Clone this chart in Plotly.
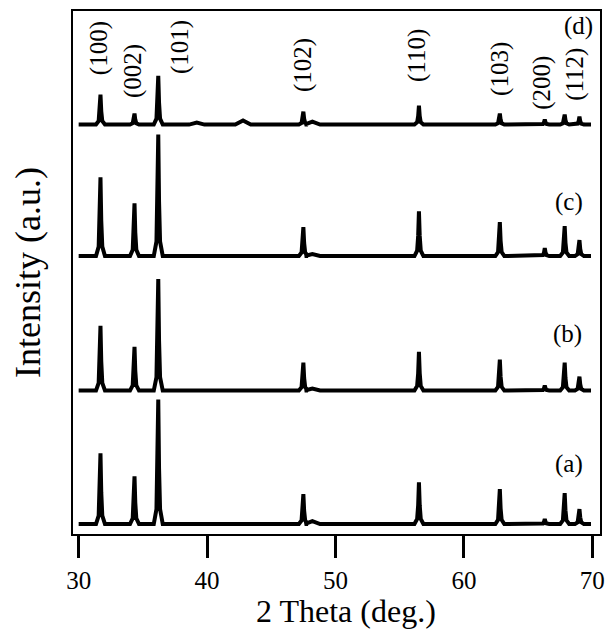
import plotly.graph_objects as go

# ---- data ----
PEAK_POS = [31.70, 34.35, 36.20, 47.50, 56.50, 62.80, 66.30, 67.85, 69.00]   # 2theta (deg)
HKL = ["(100)", "(002)", "(101)", "(102)", "(110)", "(103)", "(200)", "(112)"]
SAMPLES = ["(a)", "(b)", "(c)", "(d)"]
OFFSETS = [0, 134, 269, 401]          # vertical stacking offset (a.u.)
HEIGHTS = {                           # peak heights above baseline (a.u.)
    "(a)": [71, 48, 125, 30, 42, 35, 5, 31, 15],
    "(b)": [65, 44, 112, 28, 39, 31, 5, 28, 14],
    "(c)": [79, 53, 122, 29, 45, 34, 8, 30, 16],
    "(d)": [30, 11, 49, 13, 19, 11, 5, 10, 8],
}
MINOR_POS = [39.2, 42.8, 48.2]
MINOR_H = {
    "(a)": [1, 1, 3],
    "(b)": [1, 1, 2],
    "(c)": [1, 1, 2],
    "(d)": [2, 4, 3],
}
X_START, X_END = 30.0, 69.9

# label placement
HKL_LABEL_X = [31.61, 34.18, 37.91, 47.49, 56.36, 62.82, 66.09, 68.66]
HKL_LABEL_Y = [478, 455, 479, 461, 470, 457, 443, 451]
SAMPLE_LABEL_X = [68.2, 68.05, 68.2, 68.9]
SAMPLE_LABEL_Y = [60, 191, 323, 500]

# peak outline (style)
PROFILE_DX = [-0.35, -0.14, -0.06, 0.0, 0.06, 0.14, 0.35]
PROFILE_FRAC = [0, 0.12, 0.45, 1, 0.45, 0.12, 0]
MINOR_DX = [-0.6, 0.0, 0.6]
MINOR_FRAC = [0, 1, 0]

FONT = "Liberation Serif, Times New Roman, serif"

fig = go.Figure()
for s, off in zip(SAMPLES, OFFSETS):
    feats = [(p, h, PROFILE_DX, PROFILE_FRAC) for p, h in zip(PEAK_POS, HEIGHTS[s])]
    feats += [(p, h, MINOR_DX, MINOR_FRAC) for p, h in zip(MINOR_POS, MINOR_H[s])]
    feats.sort(key=lambda f: f[0])
    xs, ys = [X_START], [off]
    for p, h, dxs, fr in feats:
        for dx, f in zip(dxs, fr):
            xs.append(p + dx)
            ys.append(off + h * f)
    xs.append(X_END)
    ys.append(off)
    fig.add_trace(go.Scatter(x=xs, y=ys, mode="lines",
                             line=dict(color="black", width=4),
                             showlegend=False, hoverinfo="skip"))

for t, x, y in zip(HKL, HKL_LABEL_X, HKL_LABEL_Y):
    fig.add_annotation(x=x, y=y, text=t, textangle=-90, showarrow=False,
                       xanchor="center", yanchor="middle",
                       font=dict(family=FONT, size=25, color="black"))
for t, x, y in zip(SAMPLES, SAMPLE_LABEL_X, SAMPLE_LABEL_Y):
    fig.add_annotation(x=x, y=y, text=t, showarrow=False,
                       xanchor="center", yanchor="middle",
                       font=dict(family=FONT, size=25, color="black"))

# x-axis title
fig.add_annotation(x=0.518, y=0, xref="paper", yref="paper",
                   xanchor="center", yanchor="middle", yshift=-77,
                   text="2 Theta (deg.)", showarrow=False,
                   font=dict(family=FONT, size=32, color="black"))

fig.update_layout(
    width=608, height=627,
    margin=dict(l=65, r=16, t=1, b=101),
    paper_bgcolor="white", plot_bgcolor="white",
    font=dict(family=FONT, color="black"),
    xaxis=dict(range=[29.56, 70.6], tickvals=[30, 40, 50, 60, 70],
               showline=True, mirror=True, linecolor="black", linewidth=2,
               ticks="outside", ticklen=22, tickwidth=3, tickcolor="black",
               tickfont=dict(family=FONT, size=25, color="black"),
               ticklabelstandoff=1,
               showgrid=False, zeroline=False),
    yaxis=dict(range=[-10, 515], showticklabels=False, ticks="",
               showline=True, mirror=True, linecolor="black", linewidth=2,
               showgrid=False, zeroline=False,
               title=dict(text="Intensity (a.u.)", standoff=24,
                          font=dict(family=FONT, size=36, color="black"))),
)

fig.write_html("out.html")
